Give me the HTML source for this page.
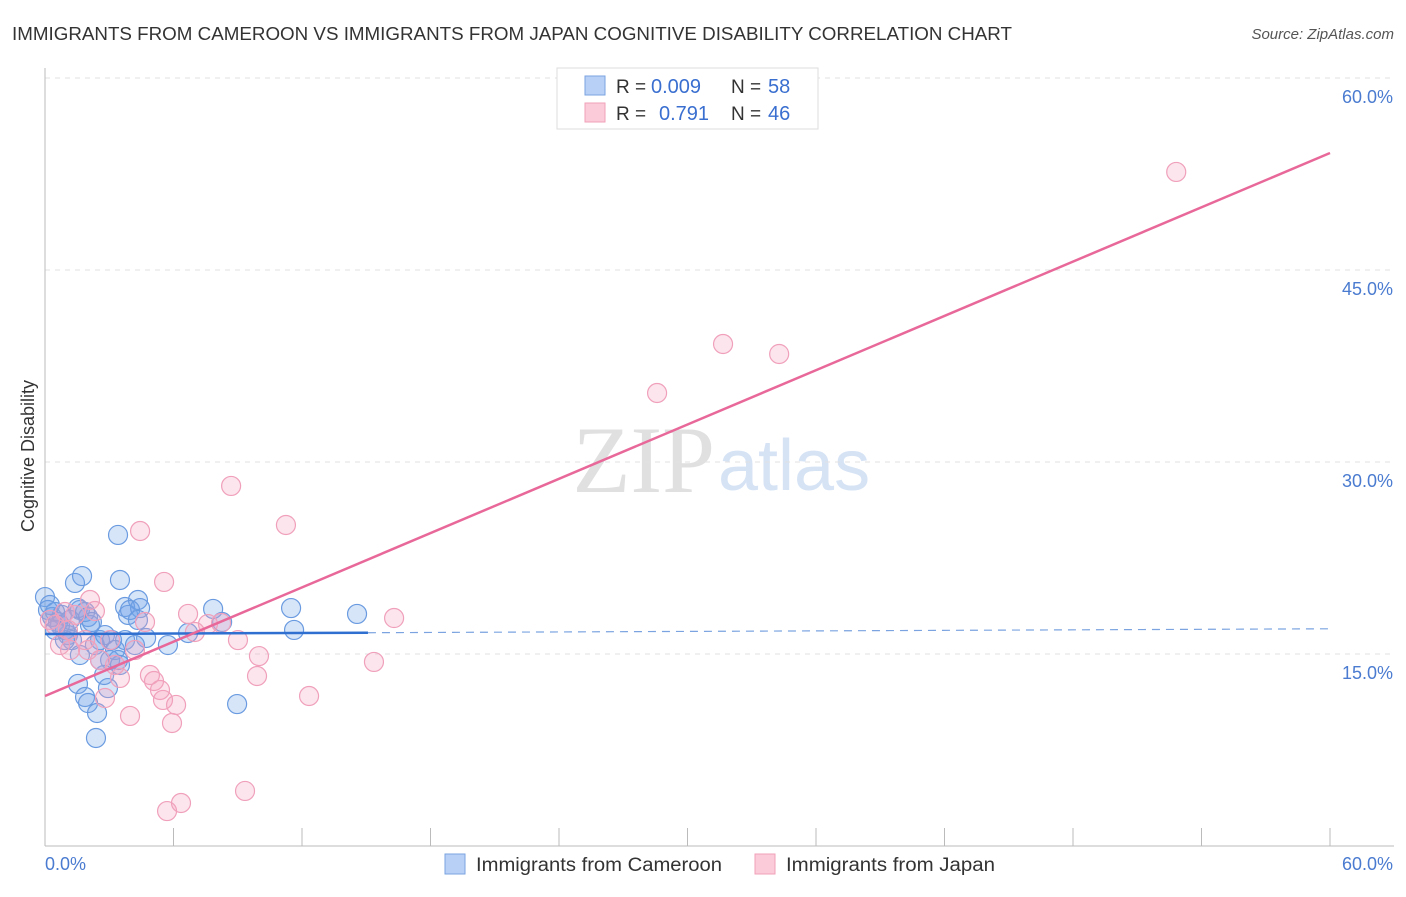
<!DOCTYPE html>
<html><head><meta charset="utf-8"><style>
body{margin:0;background:#fff;font-family:"Liberation Sans",sans-serif}
svg text{font-family:"Liberation Sans",sans-serif}
</style></head><body>
<svg id="c" width="1406" height="892">
<text x="12" y="40" font-size="18" fill="#333" textLength="1000" lengthAdjust="spacingAndGlyphs">IMMIGRANTS FROM CAMEROON VS IMMIGRANTS FROM JAPAN COGNITIVE DISABILITY CORRELATION CHART</text>
<text x="1394" y="39" font-size="15" fill="#555" font-style="italic" text-anchor="end">Source: ZipAtlas.com</text>
<text x="715" y="492" font-size="95" fill="#e0e0e0" text-anchor="end" style="font-family:'Liberation Serif',serif">ZIP</text>
<text x="718" y="490" font-size="72" fill="#d6e3f5">atlas</text>
<g id="grid"></g><g id="axes"></g><g id="marks"></g>
<text transform="translate(34,456) rotate(-90)" font-size="18" fill="#333" text-anchor="middle">Cognitive Disability</text>
<g>
<rect x="557" y="68" width="261" height="61" fill="#fff" stroke="#ddd"/>
<rect x="585" y="76" width="20" height="19" fill="#b8d0f5" stroke="#7aa3e0"/>
<rect x="585" y="103" width="20" height="19" fill="#fbcbd9" stroke="#f0a0ba"/>
<text x="616" y="93" font-size="19" fill="#333">R =</text>
<text x="651" y="93" font-size="20" fill="#3a6fd0">0.009</text>
<text x="731" y="93" font-size="19" fill="#333">N =</text>
<text x="768" y="93" font-size="20" fill="#3a6fd0">58</text>
<text x="616" y="120" font-size="19" fill="#333">R =</text>
<text x="659" y="120" font-size="20" fill="#3a6fd0">0.791</text>
<text x="731" y="120" font-size="19" fill="#333">N =</text>
<text x="768" y="120" font-size="20" fill="#3a6fd0">46</text>
</g>
<g>
<rect x="445" y="854" width="20" height="20" fill="#b8d0f5" stroke="#7aa3e0"/>
<text x="476" y="871" font-size="19" fill="#333" textLength="246" lengthAdjust="spacingAndGlyphs">Immigrants from Cameroon</text>
<rect x="755" y="854" width="20" height="20" fill="#fbcbd9" stroke="#f0a0ba"/>
<text x="786" y="871" font-size="19" fill="#333" textLength="209" lengthAdjust="spacingAndGlyphs">Immigrants from Japan</text>
</g>
</svg>
<script>
const blueX=[0,0.14,0.33,0.47,0.61,0.79,0.93,1.07,1.26,1.40,1.73,1.63,1.54,2.01,2.10,2.33,2.57,2.80,3.04,3.50,3.41,3.74,3.88,4.34,4.44,4.72,3.13,1.54,1.87,2.01,2.43,2.38,2.94,2.76,3.41,3.74,4.20,5.74,6.68,7.85,8.27,8.97,11.49,11.63,14.57,0.70,1.17,0.23,1.87,2.19,2.57,3.27,3.97,4.34,1.63,0.93,0.47,3.50];
const blueY=[19.45,18.44,17.89,18.28,17.5,18.05,16.88,16.48,16.09,20.55,21.09,18.44,18.59,17.89,17.27,15.70,16.09,16.48,14.53,20.78,24.30,18.67,18.05,19.22,18.59,16.25,16.09,12.66,11.64,11.17,10.39,8.44,12.34,13.36,14.53,16.09,15.70,15.70,16.64,18.52,17.5,11.09,18.59,16.88,18.13,17.27,17.66,18.83,18.28,17.5,14.53,15.31,18.44,17.66,14.92,16.09,16.88,14.14];
const pinkX=[52.82,31.66,34.28,28.58,8.69,11.25,4.44,5.56,2.33,6.68,7.61,4.67,8.22,9.01,9.99,9.90,12.33,15.36,16.30,4.90,5.09,5.51,6.12,5.93,3.97,2.80,3.50,2.57,2.01,1.17,0.70,0.23,0.47,1.07,1.40,3.04,4.20,5.37,7.00,5.70,6.35,9.34,1.87,3.27,0.93,2.10];
const pinkY=[52.66,39.22,38.44,35.39,28.13,25.08,24.61,20.63,18.36,18.13,17.34,17.5,17.42,16.09,14.84,13.28,11.72,14.38,17.81,13.36,12.89,11.41,11.02,9.61,10.16,11.56,13.13,14.53,15.31,15.31,15.70,17.66,17.27,16.88,18.05,16.09,15.31,12.19,16.72,2.73,3.36,4.30,16.09,14.14,18.28,19.22];
const blueLine=[16.56,16.97], blueSolidEnd=15.08;
const pinkLine=[11.72,54.14];
const yTicks=[15,30,45,60];
const xTicks=[0,6,12,18,24,30,36,42,48,54,60];
const NS='http://www.w3.org/2000/svg';
const sx=v=>45+v/60*1285, sy=v=>846-v*12.8;
function mk(t,a,p){const e=document.createElementNS(NS,t);for(const k in a)e.setAttribute(k,a[k]);p.appendChild(e);return e;}
const grid=document.getElementById('grid'),axes=document.getElementById('axes'),marks=document.getElementById('marks');
yTicks.forEach(t=>{
 const l=mk('line',{x1:45,x2:1394,y1:sy(t),y2:sy(t),stroke:'#e2e2e2','stroke-dasharray':'5,5'},grid);
 
 
 const tx=mk('text',{x:1393,y:sy(t)+25,'font-size':18,fill:'#4a7bd0','text-anchor':'end'},axes);
 tx.textContent=t.toFixed(1)+'%';
 
 
});
const ax=mk('line',{x1:45,x2:45,y1:68,y2:846,stroke:'#bbb'},axes);


const bx=mk('line',{x1:45,x2:1394,y1:846,y2:846,stroke:'#bbb'},axes);


xTicks.forEach(t=>{const l=mk('line',{x1:sx(t),x2:sx(t),y1:828,y2:846,stroke:'#bbb'},axes);
 
 });
const x0=mk('text',{x:45,y:870,'font-size':18,fill:'#4a7bd0'},axes);x0.textContent='0.0%';


const x1=mk('text',{x:1393,y:870,'font-size':18,fill:'#4a7bd0','text-anchor':'end'},axes);x1.textContent='60.0%';


blueX.forEach((v,i)=>{const c=mk('circle',{cx:sx(v),cy:sy(blueY[i]),r:9.5,fill:'rgba(110,160,235,0.28)',stroke:'#6a9be0','stroke-width':1.2},marks);
 
 });
pinkX.forEach((v,i)=>{const c=mk('circle',{cx:sx(v),cy:sy(pinkY[i]),r:9.5,fill:'rgba(245,160,190,0.28)',stroke:'#f0a0ba','stroke-width':1.2},marks);
 
 });
const bf=v=>blueLine[0]+(blueLine[1]-blueLine[0])*v/60;
const bl=mk('line',{x1:sx(0),y1:sy(bf(0)),x2:sx(blueSolidEnd),y2:sy(bf(blueSolidEnd)),stroke:'#2f6fd0','stroke-width':2.5},marks);


const bd=mk('line',{x1:sx(blueSolidEnd),y1:sy(bf(blueSolidEnd)),x2:sx(60),y2:sy(bf(60)),stroke:'#7aa3e0','stroke-width':1.2,'stroke-dasharray':'8,6'},marks);


const pl=mk('line',{x1:sx(0),y1:sy(pinkLine[0]),x2:sx(60),y2:sy(pinkLine[1]),stroke:'#e8689a','stroke-width':2.5},marks);


</script>
</body></html>
